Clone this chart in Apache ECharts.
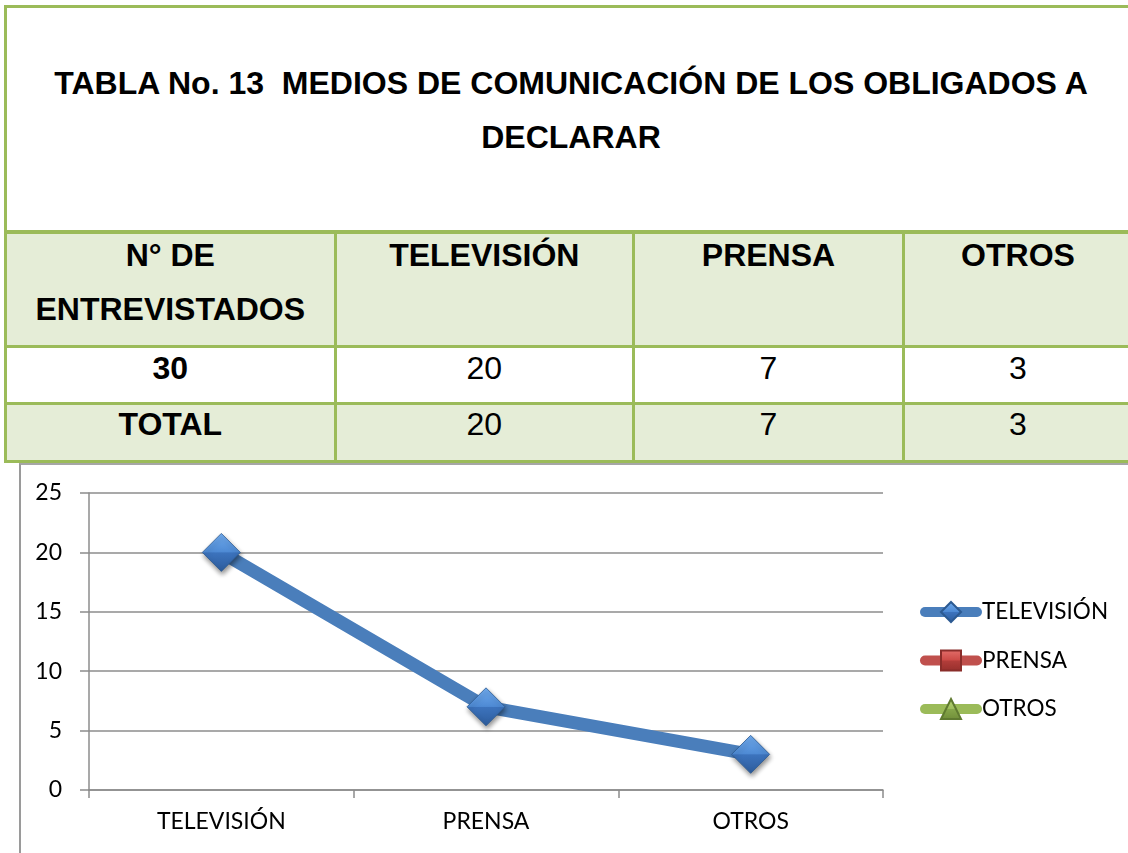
<!DOCTYPE html>
<html lang="es">
<head>
<meta charset="utf-8">
<title>Medios de comunicación de los obligados a declarar</title>
<script src="https://cdn.jsdelivr.net/npm/echarts@6/dist/echarts.min.js"></script>
<style>
  html, body { margin: 0; padding: 0; background: #ffffff; overflow: hidden; }
  body { width: 1128px; height: 853px; position: relative; }
  #sheet { position: absolute; left: 0; top: 0; width: 1128px; height: 853px; overflow: hidden; }
  .fill { position: absolute; }
  .rule { position: absolute; background: #9bbb59; }
  .txt {
    position: absolute; text-align: center; color: #000;
    font-family: "Liberation Sans", Arial, sans-serif; font-size: 32px; line-height: 54px;
    white-space: pre;
  }
  .bold { font-weight: bold; }
  #chartBox {
    position: absolute; left: 19px; top: 463px; width: 1300px; height: 500px;
    border-left: 2px solid #9a9a9a; border-top: 2px solid #a6a6a6; box-sizing: border-box;
  }
  #chart { position: absolute; left: 0; top: 463px; width: 1128px; height: 390px; }
</style>
</head>
<body>
<div id="sheet">
  <div id="chartBox"></div>
  <div id="table"></div>
  <div id="chart"></div>
</div>
<script>
// ---- data ----
const tableTitle = ['TABLA No. 13  MEDIOS DE COMUNICACIÓN DE LOS OBLIGADOS A', 'DECLARAR'];
const firstHeader = ['N° DE', 'ENTREVISTADOS'];
const categories = ['TELEVISIÓN', 'PRENSA', 'OTROS'];
const interviewed = '30';
const answers = [20, 7, 3];
const totalLabel = 'TOTAL';
const totals = [20, 7, 3];

// series shown in the chart (PRENSA and OTROS carry no points)
const seriesNames = ['TELEVISIÓN', 'PRENSA', 'OTROS'];
const televisionValues = [20, 7, 3];
const prensaValues = [];
const otrosValues = [];

const yMin = 0, yMax = 25, yStep = 5;

// ---- table ----
const table = document.getElementById('table');
function box(cls, x, y, w, h, bg) {
  const d = document.createElement('div');
  d.className = cls;
  d.style.left = x + 'px'; d.style.top = y + 'px';
  d.style.width = w + 'px'; d.style.height = h + 'px';
  if (bg) d.style.background = bg;
  table.appendChild(d);
  return d;
}
function text(lines, cx, top, bold) {
  const d = document.createElement('div');
  d.className = 'txt' + (bold ? ' bold' : '');
  d.style.left = (cx - 600) + 'px'; d.style.width = '1200px';
  d.style.top = top + 'px';
  d.textContent = lines.join('\n');
  table.appendChild(d);
}

const tint = '#e5edd7';
const colX = [7, 336.5, 635, 905, 1131];      // cell edges
const rowY = { head: [233.5, 345], data: [348, 402], total: [405, 460] };

// fills
box('fill', 7, rowY.head[0], 1130, rowY.head[1] - rowY.head[0], tint);
box('fill', 7, rowY.total[0], 1130, rowY.total[1] - rowY.total[0], tint);
// rules
box('rule', 4, 5, 1130, 3);
box('rule', 4, 5, 3, 458);
box('rule', 4, 230, 1130, 3.5);
box('rule', 4, 345, 1130, 3);
box('rule', 4, 402, 1130, 3);
box('rule', 4, 460, 1130, 3);
[333.5, 632, 902].forEach(x => box('rule', x, 233.5, 3, 229.5));

// text (cap centre sits 26.6px under the top of a 54px line)
text(tableTitle, 571, 55.5, true);
const centers = colX.slice(0, 4).map((x, i) => (x + (i < 3 ? colX[i + 1] - 3 : colX[4])) / 2);
text(firstHeader, centers[0], 228.4, true);
categories.forEach((c, i) => text([c], centers[i + 1], 228.4, true));
text([interviewed], centers[0], 341.4, true);
answers.forEach((v, i) => text([String(v)], centers[i + 1], 341.4, false));
text([totalLabel], centers[0], 396.9, true);
totals.forEach((v, i) => text([String(v)], centers[i + 1], 396.9, false));

// ---- chart ----
const chartFont = 'Lato, "Open Sans", sans-serif';
const grey = '#8c8c8c';
function bevel(light, mid, dark, deep) {
  return new echarts.graphic.LinearGradient(0, 0, 0, 1, [
    { offset: 0, color: light }, { offset: 0.49, color: mid },
    { offset: 0.51, color: dark }, { offset: 1, color: deep }
  ]);
}
const markerShadow = { shadowBlur: 5, shadowOffsetX: 1, shadowOffsetY: 3, shadowColor: 'rgba(0,0,0,0.45)' };

const chart = echarts.init(document.getElementById('chart'), null, { renderer: 'canvas' });
chart.setOption({
  animation: false,
  backgroundColor: 'transparent',
  textStyle: { fontFamily: chartFont },
  grid: { left: 89, top: 30, width: 794, height: 297, containLabel: false },
  legend: {
    orient: 'vertical', left: 915, top: 131.5,
    itemWidth: 52, itemHeight: 25, itemGap: 23.5,
    lineStyle: { width: 10, cap: 'round' },
    textStyle: { fontFamily: chartFont, fontSize: 22.5, color: '#000', lineHeight: 25 },
    selectedMode: false,
    data: seriesNames
  },
  xAxis: {
    type: 'category', data: categories, boundaryGap: true,
    axisLine: { show: true, lineStyle: { color: grey, width: 1.5 } },
    axisTick: { show: true, length: 8, interval: 0, alignWithLabel: false, lineStyle: { color: grey, width: 1.5 } },
    axisLabel: { color: '#000', fontSize: 23, lineHeight: 23, margin: 20, fontFamily: chartFont, interval: 0 },
    splitLine: { show: false }
  },
  yAxis: {
    type: 'value', min: yMin, max: yMax, interval: yStep,
    axisLine: { show: true, lineStyle: { color: grey, width: 1.5 } },
    axisTick: { show: true, length: 9, lineStyle: { color: grey, width: 1.5 } },
    axisLabel: { color: '#000', fontSize: 23, margin: 27, fontFamily: chartFont },
    splitLine: { show: true, lineStyle: { color: grey, width: 1.5 } }
  },
  series: [
    {
      name: seriesNames[0], type: 'line', data: televisionValues,
      symbol: 'diamond', symbolSize: 38,
      lineStyle: { color: '#4a7ebb', width: 13 },
      itemStyle: Object.assign({ color: bevel('#72adf0', '#4e8ad4', '#3c73bd', '#2d5c9c'), borderColor: '#2c5a92', borderWidth: 0.8 }, markerShadow),
      emphasis: { disabled: true }, z: 3
    },
    {
      name: seriesNames[1], type: 'line', data: prensaValues,
      symbol: 'rect', symbolSize: 20,
      lineStyle: { color: '#c0504d', width: 13 },
      itemStyle: { color: bevel('#e46f6b', '#cc4a46', '#b33d3a', '#962f2c'), borderColor: '#8a2d2a', borderWidth: 0.8 },
      emphasis: { disabled: true }
    },
    {
      name: seriesNames[2], type: 'line', data: otrosValues,
      symbol: 'triangle', symbolSize: 20,
      lineStyle: { color: '#9bbb59', width: 13 },
      itemStyle: { color: bevel('#b9d77a', '#9ebe5c', '#86a64a', '#6f8d38'), borderColor: '#5f7a30', borderWidth: 0.8 },
      emphasis: { disabled: true }
    }
  ]
});
</script>
</body>
</html>
